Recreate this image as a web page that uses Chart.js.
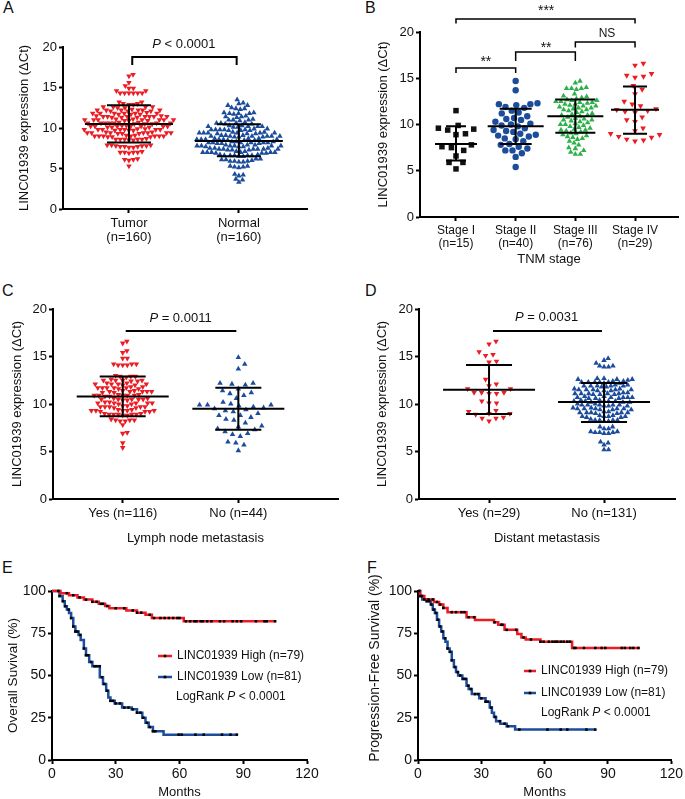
<!DOCTYPE html>
<html><head><meta charset="utf-8">
<script src="https://cdn.jsdelivr.net/npm/chart.js@4.4.1/dist/chart.umd.min.js"></script>
<style>
body{margin:0;background:#fff;width:685px;height:799px;position:relative;overflow:hidden;font-family:'Liberation Sans',Arial,sans-serif;}
canvas{position:absolute;}
.lab{position:absolute;font-size:16px;line-height:16px;color:#111;}
</style></head><body>
<div class="lab" style="left:3px;top:0px">A</div>
<div class="lab" style="left:365px;top:0px">B</div>
<div class="lab" style="left:2px;top:283px">C</div>
<div class="lab" style="left:365px;top:283px">D</div>
<div class="lab" style="left:2px;top:560px">E</div>
<div class="lab" style="left:367px;top:560px">F</div>
<canvas id="cA" width="342" height="268" style="left:0;top:0"></canvas>
<canvas id="cB" width="343" height="268" style="left:342px;top:0"></canvas>
<canvas id="cC" width="342" height="282" style="left:0;top:268px"></canvas>
<canvas id="cD" width="343" height="282" style="left:342px;top:268px"></canvas>
<canvas id="cE" width="342" height="249" style="left:0;top:550px"></canvas>
<canvas id="cF" width="343" height="249" style="left:342px;top:550px"></canvas>
<script>
// ---------------- DATA ----------------
const yTicksExpr = [0, 5, 10, 15, 20];
const labelsA = [['Tumor', '(n=160)'], ['Normal', '(n=160)']];
const tumorValues = [16.6,16.4,15.6,15.2,14.9,14.9,14.6,14.6,14.3,14.3,14.3,14.3,14.3,14.3,13.2,13.2,
 13.0,12.9,13.0,12.9, 12.6,12.5,12.6,12.6,12.5,12.6,
 12.2,12.1,12.2,12.2,12.1,12.2,12.3,12.2,12.1,12.2,
 11.8,11.7,11.8,11.8,11.9,11.8,11.7,11.8,11.8,11.7,
 11.4,11.3,11.4,11.4,11.5,11.4,11.3,11.4,11.4,11.5,11.4,11.3,
 11.0,10.9,11.0,11.0,11.1,11.0,10.9,11.0,11.0,11.1,11.0,10.9,
 10.6,10.5,10.6,10.6,10.7,10.6,10.5,10.6,10.6,10.7,10.6,10.5,
 10.2,10.1,10.2,10.2,10.3,10.2,10.1,10.2,10.2,10.3,10.2,10.1,
 9.8,9.7,9.8,9.8,9.9,9.8,9.7,9.8,9.8,9.9,9.8,9.7,
 9.4,9.3,9.4,9.4,9.5,9.4,9.3,9.4,9.4,9.5,9.4,9.3,
 9.0,8.9,9.0,9.0,9.1,9.0,8.9,9.0,9.0,9.1,9.0,8.9,
 8.6,8.5,8.6,8.6,8.7,8.6,8.5,8.6,
 7.9,7.9,7.8,7.9,7.8,7.7,7.6,7.7,7.6,7.7,7.8,7.0,7.1,7.0,7.0,6.9,7.0,6.2,6.1,6.0,6.1,5.3];
const normalValues = [13.5,13.1,13.0,12.8,12.8,12.4,12.4,12.5,12.3,11.9,11.9,11.8,11.8,11.7,11.8,
 11.4,11.3,11.4,11.5, 11.0,10.9,11.0,11.1,11.0, 10.6,10.5,10.6,10.7,10.6,10.5,
 10.2,10.1,10.2,10.3,10.2,10.1,10.2,10.3,
 9.8,9.7,9.8,9.9,9.8,9.7,9.8,9.9,9.8,9.7,
 9.4,9.3,9.4,9.5,9.4,9.3,9.4,9.5,9.4,9.3,9.4,
 9.0,8.9,9.0,9.1,9.0,8.9,9.0,9.1,9.0,8.9,9.0,9.1,
 8.6,8.5,8.6,8.7,8.6,8.5,8.6,8.7,8.6,8.5,8.6,8.7,
 8.2,8.1,8.2,8.3,8.2,8.1,8.2,8.3,8.2,8.1,8.2,8.3,
 7.8,7.7,7.8,7.9,7.8,7.7,7.8,7.9,7.8,7.7,7.8,7.9,
 7.4,7.3,7.4,7.5,7.4,7.3,7.4,7.5,7.4,7.3,7.4,7.5,
 7.0,6.9,7.0,7.1,7.0,6.9,7.0,7.1,7.0,6.9,7.0,
 6.6,6.5,6.6,6.7,6.6,6.5,6.6,6.7,6.6,
 6.2,6.1,6.2,6.0,6.1,5.9,5.8,5.9,5.9,5.8,5.3,5.2,5.1,5.2,5.3,4.3,4.2,4.1,3.7,3.6,3.3];
const meanA = [10.5, 8.4], sdHiA = [12.8, 10.45], sdLoA = [8.2, 6.5];

const labelsB = [['Stage I', '(n=15)'], ['Stage II', '(n=40)'], ['Stage III', '(n=76)'], ['Stage IV', '(n=29)']];
const stage1Values = [11.5,9.9,9.6,9.5,9.4,9.0,8.9,7.8,7.6,7.5,7.2,6.6,5.9,5.9,5.2];
const stage2Values = [14.7,13.7,12.3,12.2,12.2,12.1,11.9,11.8,11.5,11.3,11.2,10.9,10.7,10.6,10.5,10.3,10.1,10.0,9.9,9.8,
 9.6,9.4,9.3,9.2,9.0,8.9,8.8,8.7,8.5,8.4,8.2,7.9,7.8,7.6,7.4,7.2,7.2,6.9,6.5,5.4];
const stage3Values = [14.7,14.5,14.0,13.9,13.9,13.9,13.8,13.3,13.1,13.0,12.9,12.8,12.7,12.6,12.6,12.5,12.5,12.4,12.4,12.3,
 12.2,12.2,12.1,12.0,12.0,11.9,11.8,11.8,11.7,11.6,11.6,11.5,11.4,11.3,11.2,11.1,11.0,11.0,10.9,10.8,
 10.7,10.6,10.5,10.5,10.4,10.3,10.2,10.1,10.0,10.0,9.9,9.8,9.7,9.6,9.5,9.4,9.4,9.3,9.2,9.1,
 9.0,8.9,8.8,8.7,8.6,8.5,8.4,8.2,8.0,7.8,7.5,7.4,7.2,7.0,6.8,6.8];
const stage4Values = [16.6,16.4,15.5,15.3,15.2,15.1,14.2,13.8,13.3,12.5,12.2,12.0,11.7,11.6,11.5,11.4,11.3,10.8,10.5,10.3,
 9.6,9.3,9.0,8.9,8.7,8.6,8.4,8.3,8.2];
const meanB = [7.9, 9.8, 10.9, 11.6], sdHiB = [9.8, 11.7, 12.7, 14.1], sdLoB = [6.1, 7.9, 9.1, 9.0];

const labelsC = ['Yes (n=116)', 'No (n=44)'];
const lymphYesValues = [16.6,16.4,15.6,15.4,14.8,14.8,14.2,14.2,14.1,14.1,14.2,14.1,
 12.9,12.8,12.9,13.0,12.9, 12.5,12.4,12.5,12.6,12.5,12.4,12.5,
 12.1,12.0,12.1,12.2,12.1,12.0,12.1,12.2,
 11.7,11.6,11.7,11.8,11.7,11.6,11.7,11.8,11.7,
 11.3,11.2,11.3,11.4,11.3,11.2,11.3,11.4,11.3,
 10.9,10.8,10.9,11.0,10.9,10.8,10.9,11.0,10.9,
 10.5,10.4,10.5,10.6,10.5,10.4,10.5,10.6,10.5,
 10.1,10.0,10.1,10.2,10.1,10.0,10.1,10.2,10.1,
 9.7,9.6,9.7,9.8,9.7,9.6,9.7,9.8,9.7,
 9.3,9.2,9.3,9.4,9.3,9.2,9.3,9.4,9.3,9.2,
 8.9,8.8,8.9,9.0,8.9,8.8,8.9,9.0,8.9,
 8.3,8.2,8.3,8.4,8.2,8.3,7.8,7.0,6.9,5.9,5.4];
const lymphNoValues = [14.9,14.2,13.7,12.2,12.2,12.1,12.0,11.6,11.4,11.2,11.1,10.9,10.6,10.2,10.0,9.9,9.9,9.9,9.8,9.7,
 9.6,9.5,9.4,9.3,9.2,9.0,8.8,8.8,8.6,8.4,8.3,8.0,7.7,7.6,7.4,7.3,7.1,6.9,6.8,6.6,6.0,5.9,5.7,5.1];
const meanC = [10.8, 9.5], sdHiC = [12.9, 11.7], sdLoC = [8.7, 7.3];

const labelsD = ['Yes (n=29)', 'No (n=131)'];
const distantYesValues = [16.6,16.3,15.5,15.2,15.1,14.5,14.4,12.6,12.1,11.9,11.6,11.6,11.2,11.2,11.2,11.1,11.1,10.3,10.1,10.1,
 9.3,9.2,9.0,9.0,8.9,8.6,8.5,8.5,8.2];
const distantNoValues = [14.8,14.6,14.3,14.0,14.0,13.9,13.9,
 12.6,12.7,12.6,12.5,12.6,12.7,
 12.3,12.2,12.3,12.4,12.3,12.2,12.3,12.4,12.3,
 11.9,11.8,11.9,12.0,11.9,11.8,11.9,12.0,11.9,
 11.5,11.4,11.5,11.6,11.5,11.4,11.5,11.6,11.5,11.4,
 11.1,11.0,11.1,11.2,11.1,11.0,11.1,11.2,11.1,11.0,
 10.7,10.6,10.7,10.8,10.7,10.6,10.7,10.8,10.7,10.6,
 10.3,10.2,10.3,10.4,10.3,10.2,10.3,10.4,10.3,10.2,
 9.9,9.8,9.9,10.0,9.9,9.8,9.9,10.0,9.9,9.8,
 9.5,9.4,9.5,9.6,9.5,9.4,9.5,9.6,9.5,9.4,
 9.1,9.0,9.1,9.2,9.1,9.0,9.1,9.2,9.1,
 8.7,8.6,8.7,8.8,8.7,8.6,8.7,8.8,
 8.3,8.2,8.3,8.4,8.3,8.2,8.3,
 7.6,7.6,7.4,7.4,7.1,7.0,7.0,6.9,6.9,7.0,7.1,6.0,5.9,5.7,5.2,5.2];
const meanD = [11.5, 10.2], sdHiD = [14.1, 12.2], sdLoD = [8.95, 8.1];

const monthTicks = [0, 30, 60, 90, 120];
const survTicks = [0, 25, 50, 75, 100];
const osHighTimes = [0,4,8,12,15,19,22,25,27,35,40,44,47,62,105];
const osHighSurv  = [100,98.7,97.5,96.2,94.9,93.6,92.4,91.1,89.8,88.5,87.2,85.9,84.0,82.1,82.1];
const osHighCensor = [3,7,10,13,16,19,21,23,24,26,30,34,38,40,42,46,48,51,53,55,57,59,60,63,65,67,68,70,71,73,75,79,81,85,87,89,96,100,101,105];
const osLowTimes = [0,3.5,5,6,7,8,9,10,11,12.5,13.5,15,16,17.5,19,22.5,24,25.5,26.5,27.5,29.5,33,37.5,40,42.5,44,45.5,47.5,52.5,87];
const osLowSurv  = [100,97,94,91,89,87,84,79,76,74,71,66,62,58,55.5,49,45,41,37,35,33.5,31,30,28,25,22,19.5,17,15,15];
const osLowCensor = [3.6,5.2,6.3,7.8,9,10,11,12,13.3,15,16,17,18.4,20,21,22.4,23.5,24.6,26,27.5,28.7,30,32,34,36,38,40,41.6,43,44.7,46,47.5,48.6,59.6,61,67.5,71.4,80,84,87];
const pfsHighTimes = [0,1,3,7.5,10,12,14,23,27,36,38,41,47,49,51,58,73,105];
const pfsHighSurv  = [100,97,95,93.5,92,90,87.5,84.5,82.8,81.5,80,77,74.5,72.5,71.3,70,66.3,66.3];
const pfsHighCensor = [1,5,7,9,10.5,12,16,18,20.6,22,24,26.6,36.3,39.4,40,42,46.5,50,53.5,58,59.5,62,63.7,65,66,67.6,69,70.7,72,73.9,74.6,78.6,84,87,88.7,96.5,98,100.5,102,104.4];
const pfsLowTimes = [0,1,2,4,6,7,8,9,10,11,12,13,14,15,16,17,18,19,21,23,24,25.5,29,32,34,35,36,37,39,42,46,84];
const pfsLowSurv  = [100,97,95,94,92,89,87,83,79,76,72,70,66,64,59,55,52,50,48,44,42,39,36.5,34.5,31,28,25.5,23,21.5,20,18,18];
const pfsLowCensor = [0.6,1.9,3,4.2,5.3,6.3,7.4,8.5,9.4,10.5,11.6,12.8,14,15.2,16,17.5,18.8,20,21.5,22.5,23.8,25,27,28.5,30,32,33,34.7,36.6,38.7,41,42.6,48,61.3,67.6,70.7,79.8,84];

// ---------------- HELPERS ----------------
const FONT = "'Liberation Sans', Arial, Helvetica, sans-serif";
Chart.defaults.font.family = FONT;
Chart.defaults.color = '#111';
const RED = '#ec1c24', BLUE = '#1c4c9c', GREEN = '#2eb14a', BLACK = '#111';

function swarm(values, pxPerY, d) {
  const idx = values.map((v, i) => i).sort((a, b) => values[a] - values[b]);
  const placed = [], out = new Array(values.length);
  idx.forEach(i => {
    const y = values[i] * pxPerY;
    const near = placed.filter(p => Math.abs(p.y - y) < d);
    const cands = [0];
    near.forEach(p => { const dx = Math.sqrt(d * d - (p.y - y) * (p.y - y)); cands.push(p.x + dx, p.x - dx); });
    cands.sort((a, b) => Math.abs(a) - Math.abs(b) || b - a);
    let x = 0;
    for (const c of cands) {
      if (near.every(p => (p.x - c) * (p.x - c) + (p.y - y) * (p.y - y) >= d * d - 0.01)) { x = c; break; }
    }
    placed.push({x, y}); out[i] = x;
  });
  return out;
}
function survAt(times, surv, t) { let s = surv[0]; for (let k = 0; k < times.length; k++) if (times[k] <= t) s = surv[k]; return s; }
function drawSegs(ctx, segs, x, y, size, align) {
  const w = segs.map(s => { ctx.font = (s.i ? 'italic ' : '') + size + 'px ' + FONT; return ctx.measureText(s.t).width; });
  const total = w.reduce((a, b) => a + b, 0);
  let cx = align === 'left' ? x : x - total / 2;
  ctx.textAlign = 'left';
  segs.forEach((s, k) => { ctx.font = (s.i ? 'italic ' : '') + size + 'px ' + FONT; ctx.fillText(s.t, cx, y); cx += w[k]; });
}
function decor(d) {
  return { id: 'decor', afterDatasetsDraw(chart) {
    const ctx = chart.ctx, xs = chart.scales.x, ys = chart.scales.y;
    ctx.save(); ctx.strokeStyle = '#000'; ctx.fillStyle = '#111'; ctx.lineCap = 'butt';
    (d.bars || []).forEach(b => {
      const cx = xs.getPixelForValue(b.x), ym = ys.getPixelForValue(b.mean), yu = ys.getPixelForValue(b.hi), yl = ys.getPixelForValue(b.lo);
      ctx.lineWidth = 2; ctx.beginPath();
      ctx.moveTo(cx - b.mw, ym); ctx.lineTo(cx + b.mw, ym);
      ctx.moveTo(cx - b.cw, yu); ctx.lineTo(cx + b.cw, yu);
      ctx.moveTo(cx - b.cw, yl); ctx.lineTo(cx + b.cw, yl);
      ctx.moveTo(cx, yu); ctx.lineTo(cx, yl); ctx.stroke();
    });
    (d.brackets || []).forEach(k => {
      const x1 = xs.getPixelForValue(k.x1), x2 = xs.getPixelForValue(k.x2), y = ys.getPixelForValue(k.y), y2 = ys.getPixelForValue(k.y2 == null ? k.y : k.y2);
      ctx.lineWidth = k.w || 1.5; ctx.beginPath(); ctx.moveTo(x1, y2); ctx.lineTo(x1, y); ctx.lineTo(x2, y); ctx.lineTo(x2, y2); ctx.stroke();
    });
    ctx.textBaseline = 'alphabetic';
    (d.texts || []).forEach(t => drawSegs(ctx, t.segs, xs.getPixelForValue(t.x), ys.getPixelForValue(t.y), t.size, 'center'));
    (d.legend || []).forEach(l => {
      ctx.strokeStyle = l.color; ctx.lineWidth = 2.5; ctx.beginPath(); ctx.moveTo(l.x1, l.y); ctx.lineTo(l.x2, l.y); ctx.stroke();
      ctx.fillStyle = '#000'; ctx.fillRect((l.x1 + l.x2) / 2 - 1.3, l.y - 1.3, 2.6, 2.6);
      ctx.fillStyle = '#111'; ctx.textBaseline = 'middle'; drawSegs(ctx, l.segs, l.tx, l.y, 12, 'left');
    });
    (d.notes || []).forEach(n => { ctx.fillStyle = '#111'; ctx.textBaseline = 'middle'; drawSegs(ctx, n.segs, n.x, n.y, 12, 'left'); });
    if (d.ytitle) {
      ctx.save(); ctx.translate(d.ytitle.x, d.ytitle.y); ctx.rotate(-Math.PI / 2);
      ctx.textBaseline = 'middle'; ctx.fillStyle = '#111'; drawSegs(ctx, [{t: d.ytitle.text}], 0, 0, d.ytitle.size, 'center');
      ctx.restore();
    }
    ctx.restore();
  }};
}
function axisCommon() {
  return { grid: {display: true, drawOnChartArea: false, drawTicks: true, tickLength: 4, tickWidth: 2, tickColor: '#000'},
           border: {display: true, color: '#000', width: 2} };
}
function pad(box, area, yW, xH) {
  return {left: area.l - box.x - yW, top: area.t - box.y, right: box.x + box.w - area.r, bottom: box.y + box.h - area.b - xH};
}
function swarmChart(c) {
  const pxX = (c.area.r - c.area.l) / (c.xMax - c.xMin), pxY = (c.area.b - c.area.t) / 20;
  const datasets = c.groups.map((g, i) => {
    const off = swarm(g.values, pxY, g.d);
    return { data: g.values.map((v, j) => ({x: i + 1 + off[j] / pxX, y: v})), pointStyle: g.style, pointRotation: g.rot || 0,
             pointRadius: g.r, backgroundColor: g.color, borderWidth: 0, clip: false };
  });
  const bars = c.means.map((m, i) => ({x: i + 1, mean: m, hi: c.hi[i], lo: c.lo[i], mw: c.mw[i], cw: c.cw[i]}));
  const ax = axisCommon(), ay = axisCommon();
  return new Chart(document.getElementById(c.id), {
    type: 'scatter', data: {datasets},
    options: {
      responsive: false, devicePixelRatio: 1, animation: false, events: [],
      layout: {padding: pad(c.box, c.area, c.yW, c.xH)},
      plugins: {legend: {display: false}, tooltip: {enabled: false}},
      scales: {
        x: Object.assign(ax, { type: 'linear', min: c.xMin, max: c.xMax,
          afterBuildTicks: s => { s.ticks = c.labels.map((_, i) => ({value: i + 1})); },
          afterFit: s => { s.height = c.xH; },
          ticks: {callback: v => c.labels[Math.round(v) - 1], font: {size: c.xFont, lineHeight: 1.08}, padding: c.xPad, maxRotation: 0, autoSkip: false, color: '#111'},
          title: c.xTitle ? {display: true, text: c.xTitle, font: {size: 13, lineHeight: 1.2}, padding: 0, color: '#111'} : {display: false} }),
        y: Object.assign(ay, { type: 'linear', min: 0, max: 20,
          afterBuildTicks: s => { s.ticks = yTicksExpr.map(v => ({value: v})); },
          afterFit: s => { s.width = c.yW; },
          ticks: {font: {size: 13}, padding: 2, color: '#111'},
          title: {display: true, text: 'LINC01939 expression (ΔCt)', font: {size: 13, lineHeight: 1.2}, padding: 0, color: '#111'} })
      }
    },
    plugins: [decor({bars, brackets: c.brackets, texts: c.texts})]
  });
}
function kmChart(c) {
  const datasets = [];
  c.curves.forEach(k => datasets.push({ data: k.censor.map(t => ({x: t, y: survAt(k.times, k.surv, t)})), pointStyle: 'rect',
    pointRadius: 1.8, backgroundColor: '#000', borderWidth: 0, clip: false }));
  c.curves.forEach(k => datasets.push({ data: k.times.map((t, j) => ({x: t, y: k.surv[j]})), showLine: true, stepped: true,
    borderColor: k.color, borderWidth: 2.5, pointRadius: 0, fill: false, clip: false }));
  const ax = axisCommon(), ay = axisCommon();
  return new Chart(document.getElementById(c.id), {
    type: 'scatter', data: {datasets},
    options: {
      responsive: false, devicePixelRatio: 1, animation: false, events: [],
      layout: {padding: pad(c.box, c.area, c.yW, c.xH)},
      plugins: {legend: {display: false}, tooltip: {enabled: false}},
      scales: {
        x: Object.assign(ax, { type: 'linear', min: 0, max: 120,
          afterBuildTicks: s => { s.ticks = monthTicks.map(v => ({value: v})); },
          afterFit: s => { s.height = c.xH; },
          ticks: {font: {size: 14}, padding: 2, maxRotation: 0, color: '#111'},
          title: {display: true, text: 'Months', font: {size: 13, lineHeight: 1}, padding: 0, color: '#111'} }),
        y: Object.assign(ay, { type: 'linear', min: 0, max: 100,
          afterBuildTicks: s => { s.ticks = survTicks.map(v => ({value: v})); },
          afterFit: s => { s.width = c.yW; },
          ticks: {font: {size: 14}, padding: 2, color: '#111'},
          title: c.yTitle ? {display: true, text: c.yTitle, font: {size: 13.5, lineHeight: 1.2}, padding: 0, color: '#111'} : {display: false} })
      }
    },
    plugins: [decor({legend: c.legend, notes: c.notes, ytitle: c.ytitleCustom})]
  });
}
const legendSegs = [[{t: 'LINC01939 High (n=79)'}], [{t: 'LINC01939 Low (n=81)'}], [{t: 'LogRank '}, {t: 'P', i: true}, {t: ' < 0.0001'}]];

// ---------------- PANELS ----------------
swarmChart({ id: 'cA', box: {x: 0, y: 0, w: 342, h: 268}, area: {l: 63, t: 47, r: 307, b: 209}, yW: 46, xH: 50,
  xMin: 0.4, xMax: 2.62, labels: labelsA, xFont: 13, xPad: 3,
  groups: [{values: tumorValues, style: 'triangle', rot: 180, r: 3.2, color: RED, d: 4.4},
           {values: normalValues, style: 'triangle', rot: 0, r: 3.2, color: BLUE, d: 4.4}],
  means: meanA, hi: sdHiA, lo: sdLoA, mw: [44, 44], cw: [22, 22],
  brackets: [{x1: 1.03, x2: 1.98, y: 18.77, y2: 17.78, w: 2}],
  texts: [{x: 1.5, y: 19.88, size: 13, segs: [{t: 'P', i: true}, {t: ' < 0.0001'}]}] });

swarmChart({ id: 'cB', box: {x: 342, y: 0, w: 343, h: 268}, area: {l: 420, t: 32, r: 678, b: 217}, yW: 44, xH: 50,
  xMin: 0.397, xMax: 4.72, labels: labelsB, xFont: 12, xPad: 3, xTitle: 'TNM stage',
  groups: [{values: stage1Values, style: 'rect', r: 3.9, color: BLACK, d: 9.5},
           {values: stage2Values, style: 'circle', r: 3.2, color: BLUE, d: 7.2},
           {values: stage3Values, style: 'triangle', rot: 0, r: 3.2, color: GREEN, d: 5.0},
           {values: stage4Values, style: 'triangle', rot: 180, r: 3.3, color: RED, d: 8.5}],
  means: meanB, hi: sdHiB, lo: sdLoB, mw: [21, 28, 28, 24], cw: [10, 16, 20, 12],
  brackets: [{x1: 1, x2: 4, y: 21.4, y2: 20.92}, {x1: 3, x2: 4, y: 18.92, y2: 18.32},
             {x1: 2, x2: 3, y: 17.84, y2: 16.86}, {x1: 1, x2: 2, y: 16.11, y2: 15.57}],
  texts: [{x: 2.51, y: 21.89, size: 14, segs: [{t: '***'}]}, {x: 3.53, y: 19.46, size: 12, segs: [{t: 'NS'}]},
          {x: 2.51, y: 17.88, size: 14, segs: [{t: '**'}]}, {x: 1.5, y: 16.35, size: 14, segs: [{t: '**'}]}] });

swarmChart({ id: 'cC', box: {x: 0, y: 268, w: 342, h: 282}, area: {l: 53, t: 309, r: 339, b: 499}, yW: 43, xH: 47,
  xMin: 0.397, xMax: 2.862, labels: labelsC, xFont: 13, xPad: 3, xTitle: 'Lymph node metastasis',
  groups: [{values: lymphYesValues, style: 'triangle', rot: 180, r: 3.2, color: RED, d: 4.6},
           {values: lymphNoValues, style: 'triangle', rot: 0, r: 3.2, color: BLUE, d: 8.0}],
  means: meanC, hi: sdHiC, lo: sdLoC, mw: [46, 46], cw: [23, 23],
  brackets: [{x1: 1.026, x2: 1.983, y: 17.68, w: 2}],
  texts: [{x: 1.5, y: 18.63, size: 13, segs: [{t: 'P', i: true}, {t: ' = 0.0011'}]}] });

swarmChart({ id: 'cD', box: {x: 342, y: 268, w: 343, h: 282}, area: {l: 419, t: 309, r: 675, b: 499}, yW: 44, xH: 47,
  xMin: 0.391, xMax: 2.617, labels: labelsD, xFont: 13, xPad: 3, xTitle: 'Distant metastasis',
  groups: [{values: distantYesValues, style: 'triangle', rot: 180, r: 3.2, color: RED, d: 7.5},
           {values: distantNoValues, style: 'triangle', rot: 0, r: 3.2, color: BLUE, d: 4.5}],
  means: meanD, hi: sdHiD, lo: sdLoD, mw: [46, 46], cw: [23, 23],
  brackets: [{x1: 1.034, x2: 1.982, y: 17.68, w: 2}],
  texts: [{x: 1.5, y: 18.74, size: 13, segs: [{t: 'P', i: true}, {t: ' = 0.0031'}]}] });

kmChart({ id: 'cE', box: {x: 0, y: 550, w: 342, h: 249}, area: {l: 52, t: 591, r: 307, b: 760}, yW: 47, xH: 39,
  yTitle: 'Overall Suvival (%)',
  curves: [{times: osHighTimes, surv: osHighSurv, censor: osHighCensor, color: RED},
           {times: osLowTimes, surv: osLowSurv, censor: osLowCensor, color: BLUE}],
  legend: [{x1: 158, x2: 172, y: 106, color: RED, tx: 177, segs: legendSegs[0]},
           {x1: 158, x2: 172, y: 127, color: BLUE, tx: 177, segs: legendSegs[1]}],
  notes: [{x: 176, y: 147, segs: legendSegs[2]}] });
kmChart({ id: 'cF', box: {x: 342, y: 550, w: 343, h: 249}, area: {l: 418, t: 591, r: 674, b: 760}, yW: 51, xH: 39,
  yTitle: null, ytitleCustom: {x: 33, y: 118, text: 'Progression-Free Survival (%)', size: 14},
  curves: [{times: pfsHighTimes, surv: pfsHighSurv, censor: pfsHighCensor, color: RED},
           {times: pfsLowTimes, surv: pfsLowSurv, censor: pfsLowCensor, color: BLUE}],
  legend: [{x1: 182, x2: 194, y: 121, color: RED, tx: 199, segs: legendSegs[0]},
           {x1: 182, x2: 194, y: 143, color: BLUE, tx: 199, segs: legendSegs[1]}],
  notes: [{x: 199, y: 163, segs: legendSegs[2]}] });
</script>
</body></html>
